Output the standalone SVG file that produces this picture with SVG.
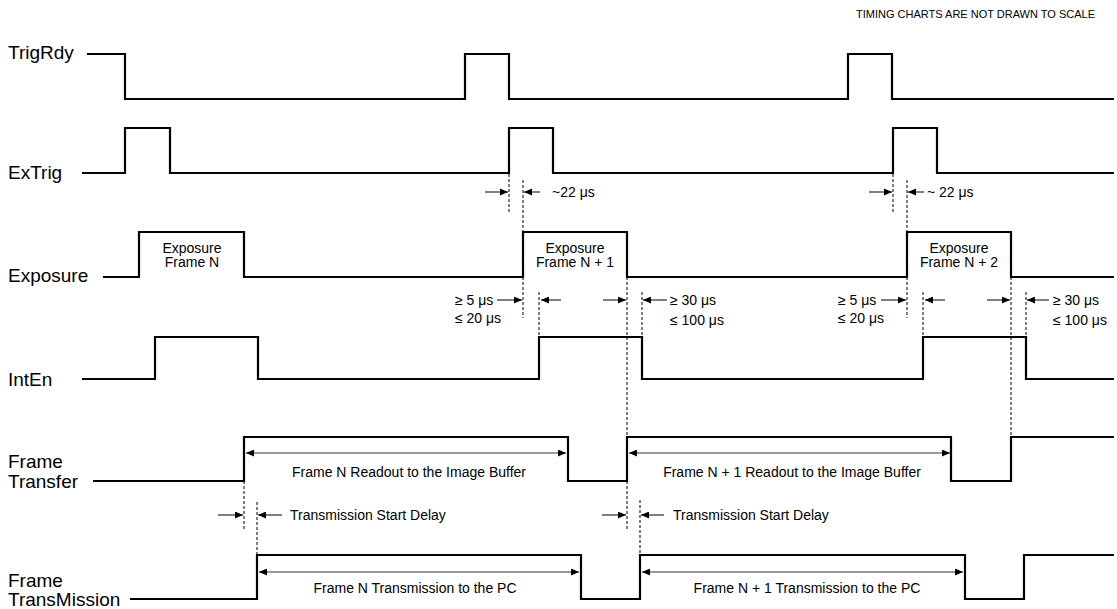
<svg xmlns="http://www.w3.org/2000/svg" width="1117" height="609" viewBox="0 0 1117 609">
<style>
text{font-family:"Liberation Sans",Arial,Helvetica,sans-serif;fill:#000}
.lbl{font-size:19px}
.sm{font-size:14px}
.ttl{font-size:11px}
.wave{fill:none;stroke:#000;stroke-width:2.2;stroke-linejoin:miter}
.dash{fill:none;stroke:#000;stroke-width:1;stroke-dasharray:3 2}
.arr{fill:none;stroke:#000;stroke-width:1;marker-end:url(#ah)}
.dim{fill:none;stroke:#333;stroke-width:1;marker-start:url(#ahs);marker-end:url(#ah)}
.mid{text-anchor:middle}
</style>
<defs>
<marker id="ah" markerUnits="userSpaceOnUse" markerWidth="9" markerHeight="7" refX="8" refY="3.5" orient="auto"><path d="M0,0 L8,3.5 L0,7 Z" fill="#000"/></marker>
<marker id="ahs" markerUnits="userSpaceOnUse" markerWidth="9" markerHeight="7" refX="0" refY="3.5" orient="auto"><path d="M8,0 L0,3.5 L8,7 Z" fill="#000"/></marker>
</defs>
<rect width="1117" height="609" fill="#fff"/>
<text class="ttl" x="1095" y="18" text-anchor="end">TIMING CHARTS ARE NOT DRAWN TO SCALE</text>

<g id="trigrdy">
<text class="lbl" x="8" y="59">TrigRdy</text>
<path class="wave" d="M87,54 H125 V99 H465 V54 H509 V99 H848 V54 H892 V99 H1114"/>
</g>
<g id="extrig">
<text class="lbl" x="8" y="179">ExTrig</text>
<path class="wave" d="M82,173 H125 V128 H170 V173 H509 V128 H553 V173 H893 V128 H937 V173 H1114"/>
</g>
<g id="exposure">
<text class="lbl" x="8" y="282">Exposure</text>
<path class="wave" d="M103,277 H139 V232 H244 V277 H523 V232 H627 V277 H907 V232 H1011 V277 H1114"/>
<text class="sm mid" x="192" y="253">Exposure</text>
<text class="sm mid" x="192" y="267">Frame N</text>
<text class="sm mid" x="575" y="253">Exposure</text>
<text class="sm mid" x="575" y="267">Frame N + 1</text>
<text class="sm mid" x="959" y="253">Exposure</text>
<text class="sm mid" x="959" y="267">Frame N + 2</text>
</g>
<g id="inten">
<text class="lbl" x="8" y="386">IntEn</text>
<path class="wave" d="M82,379 H155 V337 H258 V379 H539 V337 H642 V379 H923 V337 H1026 V379 H1114"/>
</g>
<g id="frametransfer">
<text class="lbl" x="8" y="468">Frame</text>
<text class="lbl" x="8" y="488">Transfer</text>
<path class="wave" d="M93,481 H244 V437 H568 V481 H627 V437 H951 V481 H1011 V437 H1114"/>
<text class="sm mid" x="409" y="477">Frame N Readout to the Image Buffer</text>
<text class="sm mid" x="792" y="477">Frame N + 1 Readout to the Image Buffer</text>
</g>
<g id="frametransmission">
<text class="lbl" x="8" y="587">Frame</text>
<text class="lbl" x="8" y="606">TransMission</text>
<path class="wave" d="M130,599 H257 V555 H581 V599 H640 V555 H965 V599 H1024 V555 H1114"/>
<text class="sm mid" x="415" y="593">Frame N Transmission to the PC</text>
<text class="sm mid" x="807" y="593">Frame N + 1 Transmission to the PC</text>
</g>

<g id="connectors">
<path class="dash" d="M509,174 V213 M523,180 V232 M523,277 V318 M893,174 V213 M907,180 V232 M907,277 V318"/>
<path class="dash" d="M539,292 V337 M642,292 V337 M923,292 V337 M1026,292 V337"/>
<path class="dash" d="M627,277 V437 M627,481 V530 M1011,277 V437"/>
<path class="dash" d="M244,481 V530 M257,502 V555 M640,500 V555"/>
<path class="arr" d="M485,192 H508"/>
<path class="arr" d="M540,192 H524"/>
<path class="arr" d="M869,192 H892"/>
<path class="arr" d="M924,192 H908"/>
<path class="arr" d="M497,300 H522"/>
<path class="arr" d="M561,300 H541"/>
<path class="arr" d="M603,300 H626"/>
<path class="arr" d="M667,300 H643"/>
<path class="arr" d="M881,300 H906"/>
<path class="arr" d="M945,300 H925"/>
<path class="arr" d="M987,300 H1010"/>
<path class="arr" d="M1049,300 H1027"/>
<path class="arr" d="M218,515 H243"/>
<path class="arr" d="M282,515 H258"/>
<path class="arr" d="M602,515 H626"/>
<path class="arr" d="M664,515 H641"/>
<path class="dim" d="M246,453 H566"/>
<path class="dim" d="M629,453 H950"/>
<path class="dim" d="M259,572 H579"/>
<path class="dim" d="M642,572 H963"/>
</g>
<g id="annotations">
<text class="sm" x="552" y="197">~22 μs</text>
<text class="sm" x="927" y="197">~ 22 μs</text>
<text class="sm" x="455" y="305">≥ 5 μs</text>
<text class="sm" x="455" y="323">≤ 20 μs</text>
<text class="sm" x="670" y="305">≥ 30 μs</text>
<text class="sm" x="670" y="325">≤ 100 μs</text>
<text class="sm" x="838" y="305">≥ 5 μs</text>
<text class="sm" x="838" y="323">≤ 20 μs</text>
<text class="sm" x="1053" y="305">≥ 30 μs</text>
<text class="sm" x="1053" y="325">≤ 100 μs</text>
<text class="sm" x="290" y="520">Transmission Start Delay</text>
<text class="sm" x="673" y="520">Transmission Start Delay</text>
</g>
</svg>
